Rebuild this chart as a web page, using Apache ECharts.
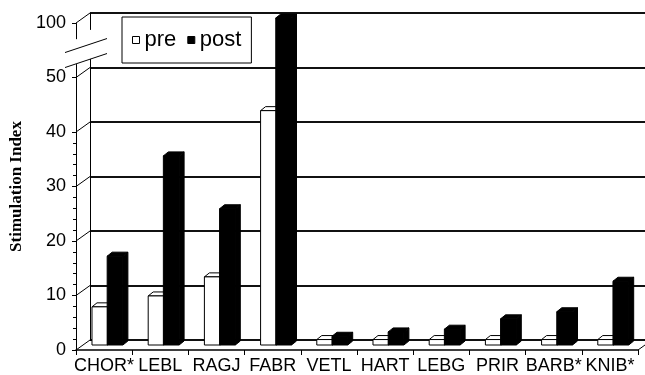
<!DOCTYPE html>
<html>
<head>
<meta charset="utf-8">
<script src="https://cdn.jsdelivr.net/npm/echarts@6/dist/echarts.min.js"></script>
<style>
  html, body { margin: 0; padding: 0; background: #fff; }
  #chart { width: 645px; height: 375px; }
</style>
</head>
<body>
<div id="chart"></div>
<script>
// Stimulation index per subject, before and after
const categories = ['CHOR*', 'LEBL', 'RAGJ', 'FABR', 'VETL', 'HART', 'LEBG', 'PRIR', 'BARB*', 'KNIB*'];
const preValues  = [7, 9, 12.5, 43, 1, 1, 1, 1, 1, 1];
const postValues = [16.3, 34.7, 25, 100, 1.6, 2.4, 2.9, 4.8, 6.1, 11.7];
const yTickValues = [0, 10, 20, 30, 40, 50, 100];
const seriesNames = ['pre', 'post'];

// compressed stretch of the value axis between 50 and 100
const axisBreak = { start: 52.5, end: 97, gap: 4.5 };

// pseudo-3D offsets (pixels): front plane -> back wall, and bar depth
const WALL = { dx: 14, dy: -10 };
const BAR = { dx: 5, dy: -4, width: 0.28 };
const barOffset = [-0.34, -0.07];
const barFill = ['#ffffff', '#000000'];

function valueAxis(gridIndex, extra) {
  return Object.assign({
    type: 'value', gridIndex: gridIndex, min: 0, max: 100, interval: 10,
    breaks: [{ start: axisBreak.start, end: axisBreak.end, gap: axisBreak.gap }],
    breakArea: { show: false },
    axisLabel: { show: false, customValues: yTickValues },
    axisTick: { show: false, customValues: yTickValues },
    axisLine: { show: false }, splitLine: { show: false }
  }, extra || {});
}

function categoryAxis(gridIndex, extra) {
  return Object.assign({
    type: 'category', gridIndex: gridIndex, data: categories,
    axisLabel: { show: false }, axisTick: { show: false },
    axisLine: { show: false }, splitLine: { show: false }
  }, extra || {});
}

function barRenderer(k) {
  return function (params, api) {
    const idx = api.value(0), val = api.value(1);
    const top = api.coord([idx, val]);
    const base = api.coord([idx, 0]);
    const bw = api.size([1, 0])[0];
    const w = bw * BAR.width;
    const x = top[0] + bw * barOffset[k];
    const ty = top[1], by = base[1];
    const style = { fill: barFill[k], stroke: '#000', lineWidth: 1 };
    return {
      type: 'group',
      children: [
        { type: 'polygon', shape: { points: [[x + w, ty], [x + w + BAR.dx, ty + BAR.dy], [x + w + BAR.dx, by + BAR.dy], [x + w, by]] }, style: style },
        { type: 'polygon', shape: { points: [[x, ty], [x + BAR.dx, ty + BAR.dy], [x + w + BAR.dx, ty + BAR.dy], [x + w, ty]] }, style: style },
        { type: 'rect', shape: { x: x, y: ty, width: w, height: by - ty }, style: style }
      ]
    };
  };
}

const chart = echarts.init(document.getElementById('chart'), null, { renderer: 'canvas' });

chart.setOption({
  animation: false,
  textStyle: { fontFamily: 'Liberation Sans', color: '#000' },
  grid: [
    // back wall
    { left: 90, right: -7, top: 13, bottom: 35, outerBoundsMode: 'none' },
    // bar plane
    { left: 83, right: 0, top: 18, bottom: 30, outerBoundsMode: 'none' },
    // front plane (axes and labels)
    { left: 76, right: 7, top: 23, bottom: 25, outerBoundsMode: 'none' }
  ],
  xAxis: [
    categoryAxis(0),
    categoryAxis(1),
    categoryAxis(2, {
      axisLine: { show: true, lineStyle: { color: '#000', width: 1.5 } },
      axisTick: { show: true, length: 5, lineStyle: { color: '#000' } },
      axisLabel: { show: true, interval: 0, fontSize: 18, color: '#000', margin: 7, fontFamily: 'Liberation Sans' }
    })
  ],
  yAxis: [
    valueAxis(0, {
      axisLine: { show: true, lineStyle: { color: '#000', width: 1 } },
      splitLine: { show: true, lineStyle: { color: '#111', width: 2 } }
    }),
    valueAxis(1),
    valueAxis(2, {
      axisLine: { show: true, lineStyle: { color: '#000', width: 1 } },
      axisTick: { show: true, customValues: yTickValues, length: 4, lineStyle: { color: '#000' } },
      minorTick: { show: true, splitNumber: 5, length: 3, lineStyle: { color: '#000' } },
      axisLabel: { show: true, customValues: yTickValues, fontSize: 18, color: '#000', margin: 10, fontFamily: 'Liberation Sans' },
      name: 'Stimulation Index',
      nameLocation: 'middle',
      nameGap: 48,
      nameTextStyle: { fontFamily: 'Liberation Serif', fontWeight: 'bold', fontSize: 17, color: '#000' }
    })
  ],
  legend: {
    left: 122, top: 17,
    orient: 'horizontal',
    selectedMode: false,
    data: [
      { name: seriesNames[0], icon: 'rect', itemStyle: { color: '#fff', borderColor: '#000', borderWidth: 1 } },
      { name: seriesNames[1], icon: 'rect', itemStyle: { color: '#000', borderColor: '#000', borderWidth: 1 } }
    ],
    itemWidth: 7, itemHeight: 7, itemGap: 11,
    textStyle: { fontSize: 22, color: '#000', fontFamily: 'Liberation Sans' },
    borderColor: '#000', borderWidth: 1,
    padding: [12, 10, 12, 10],
    backgroundColor: '#fff'
  },
  series: [
    {
      // side wall lines and floor edges
      type: 'custom', xAxisIndex: 0, yAxisIndex: 0, silent: true, z: 1,
      data: yTickValues.map(v => [0, v]),
      renderItem: function (params, api) {
        const cs = params.coordSys;
        const y = api.coord([0, api.value(1)])[1];
        const lines = [
          { type: 'line', shape: { x1: cs.x, y1: y, x2: cs.x - WALL.dx, y2: y - WALL.dy }, style: { stroke: '#000', lineWidth: 1 } }
        ];
        if (api.value(1) === 0) {
          lines.push({ type: 'line', shape: { x1: cs.x + cs.width, y1: y, x2: cs.x + cs.width - WALL.dx, y2: y - WALL.dy }, style: { stroke: '#000', lineWidth: 1 } });
        }
        return { type: 'group', children: lines };
      }
    },
    {
      name: seriesNames[0], type: 'custom', xAxisIndex: 1, yAxisIndex: 1, z: 3,
      data: preValues.map((v, i) => [i, v]),
      renderItem: barRenderer(0)
    },
    {
      name: seriesNames[1], type: 'custom', xAxisIndex: 1, yAxisIndex: 1, z: 4,
      data: postValues.map((v, i) => [i, v]),
      renderItem: barRenderer(1)
    },
    {
      // break marks on the value axis
      type: 'custom', xAxisIndex: 2, yAxisIndex: 2, silent: true, z: 5,
      data: [[0, axisBreak.start]],
      renderItem: function (params, api) {
        const cs = params.coordSys;
        const x = cs.x;
        const yLow = api.coord([0, axisBreak.start])[1];
        const yHigh = api.coord([0, axisBreak.end])[1];
        const slope = -1 / 3;
        const xl = x - 11, xr = x + 31;
        const at = (y0, xx) => y0 + (xx - x) * slope;
        const upper = yLow - 15;
        return {
          type: 'group',
          children: [
            { type: 'polygon', shape: { points: [[xl, at(yHigh, xl)], [xr, at(yHigh, xr)], [xr, at(yLow, xr)], [xl, at(yLow, xl)]] }, style: { fill: '#fff' } },
            { type: 'line', shape: { x1: xl, y1: at(upper, xl), x2: xr, y2: at(upper, xr) }, style: { stroke: '#000', lineWidth: 1 } },
            { type: 'line', shape: { x1: xl, y1: at(yLow, xl), x2: xr, y2: at(yLow, xr) }, style: { stroke: '#000', lineWidth: 1 } }
          ]
        };
      }
    }
  ]
});
</script>
</body>
</html>
